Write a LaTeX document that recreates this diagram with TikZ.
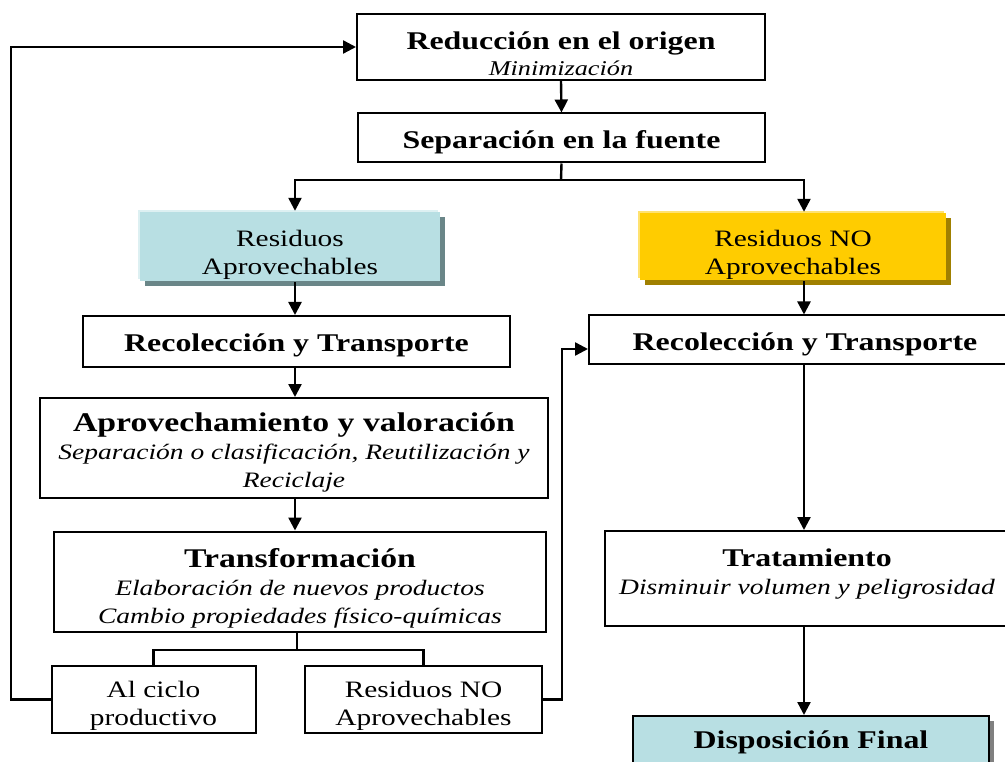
\documentclass[tikz,border=0pt]{standalone}
\usepackage{fontspec}
\setmainfont{Liberation Serif}[FakeStretch=1.25]
\usetikzlibrary{arrows.meta,shadows}

\definecolor{aguaclaro}{HTML}{B8DFE3}
\definecolor{aguaoscuro}{HTML}{6A8688}
\definecolor{aguabrillo}{HTML}{DDF0F2}
\definecolor{oro}{HTML}{FFCC00}
\definecolor{orooscuro}{HTML}{A08000}
\definecolor{orobrillo}{HTML}{FFE270}

\newcommand{\titulo}[1]{{\fontsize{25.5}{28}\selectfont\bfseries\upshape #1}}
\newcommand{\tituloG}[1]{{\fontsize{27}{28}\selectfont\bfseries\upshape #1}}

\tikzset{
  caja/.style={draw, line width=2pt, inner sep=0pt},
  relieve/.style n args={3}{inner sep=0pt, fill=#1,
    drop shadow={shadow xshift=5pt, shadow yshift=-5pt, fill=#2, opacity=1},
    drop shadow={shadow xshift=-2pt, shadow yshift=2pt, fill=#3, opacity=1}},
  texto/.style={align=center, inner sep=0pt, font=\fontsize{22}{28}\selectfont\itshape},
  textonormal/.style={align=center, inner sep=0pt, font=\fontsize{23.5}{28}\selectfont},
}

\begin{document}
\begin{tikzpicture}[x=1pt, y=-1pt, line width=2.4pt, >={Triangle[length=13pt,width=13pt]}]
  \useasboundingbox (0,0) rectangle (1005,762);
  \clip (0,0) rectangle (1005,762);
  % columnas de las flechas
  \coordinate (colA) at (295,0);
  \coordinate (colB) at (804,0);
  \coordinate (ramal) at (561,180);
  \coordinate (ramal2) at (297,650);
  \coordinate (vuelta) at (11,0);
  \coordinate (subida) at (562,349);

  % cajas
  \node[caja, minimum width=408pt, minimum height=66pt] (reduccion) at (561,47) {};
  \node[caja, minimum width=407pt, minimum height=49pt] (separacion) at (561.5,138) {};
  \node[relieve={aguaclaro}{aguaoscuro}{aguabrillo}, minimum width=300pt, minimum height=69pt] (aprov) at (290,246.5) {};
  \node[relieve={oro}{orooscuro}{orobrillo}, minimum width=306pt, minimum height=67pt] (noaprov) at (793,246.5) {};
  \node[caja, minimum width=427pt, minimum height=51pt] (recolA) at (296.5,341.5) {};
  \node[caja, minimum width=432pt, minimum height=49pt] (recolB) at (805,340) {};
  \node[caja, minimum width=508pt, minimum height=100pt] (valor) at (294,448) {};
  \node[caja, minimum width=492pt, minimum height=100pt] (transf) at (300,581.5) {};
  \node[caja, minimum width=204pt, minimum height=67pt] (ciclo) at (153.5,699.5) {};
  \node[caja, minimum width=237pt, minimum height=67pt] (resto) at (423.5,699.5) {};
  \node[caja, minimum width=404pt, minimum height=95pt] (tratam) at (807,578.5) {};
  \node[caja, fill=aguaclaro, minimum width=356pt, minimum height=100pt,
    drop shadow={shadow xshift=5pt, shadow yshift=-5pt, fill=gray, opacity=1}] (disposicion) at (811,766) {};

  % textos
  \node[texto, font=\fontsize{21}{26}\selectfont\itshape] (reduccionT) at ([yshift=-7pt]reduccion.center)
    {\titulo{Reducción en el origen}\\Minimización};
  \node[texto] (separacionT) at ([yshift=-4pt]separacion.center) {\titulo{Separación en la fuente}};
  \node[textonormal] (aprovT) at ([yshift=-8pt]aprov.center) {Residuos\\Aprovechables};
  \node[textonormal] (noaprovT) at ([yshift=-8pt]noaprov.center) {Residuos NO\\Aprovechables};
  \node[texto] (recolAT) at ([yshift=-3.5pt]recolA.center) {\titulo{Recolección y Transporte}};
  \node[texto] (recolBT) at ([yshift=-4pt]recolB.center) {\titulo{Recolección y Transporte}};
  \node[texto] (valorT) at ([yshift=-4pt]valor.center)
    {\tituloG{Aprovechamiento y valoración}\\Separación o clasificación, Reutilización y\\Reciclaje};
  \node[texto] (transfT) at ([yshift=-6.5pt]transf.center)
    {\tituloG{Transformación}\\Elaboración de nuevos productos\\Cambio propiedades físico-químicas};
  \node[textonormal] (cicloT) at ([yshift=-6pt]ciclo.center) {Al ciclo\\productivo};
  \node[textonormal] (restoT) at ([yshift=-6pt]resto.center) {Residuos NO\\Aprovechables};
  \node[texto] (tratamT) at ([yshift=4.5pt]tratam.center) {\titulo{Tratamiento}\\Disminuir volumen y peligrosidad};
  \node[texto] (disposicionT) at (811,742) {\titulo{Disposición Final}};

  % flechas
  \draw[->] (reduccion.south) -- (separacion.north);
  \draw (separacion.south) -- (ramal);
  \draw[->] (ramal) -| (colA |- aprov.north);
  \draw[->] (ramal) -| (colB |- noaprov.north);
  \draw[->] (colA |- aprov.south) -- (colA |- recolA.north);
  \draw[->] (colA |- recolA.south) -- (colA |- valor.north);
  \draw[->] (colA |- valor.south) -- (colA |- transf.north);
  \draw (transf.south -| ramal2) -- (ramal2);
  \draw (ciclo.north) |- (ramal2) -| (resto.north);
  \draw[->] (ciclo.west) -| (vuelta |- ciclo.west) |- (reduccion.west);
  \draw[->] (resto.east) -| (subida) -- (subida -| recolB.west);
  \draw[->] (colB |- noaprov.south) -- (colB |- recolB.north);
  \draw[->] (colB |- recolB.south) -- (colB |- tratam.north);
  \draw[->] (colB |- tratam.south) -- (colB |- disposicion.north);
\end{tikzpicture}
\end{document}
